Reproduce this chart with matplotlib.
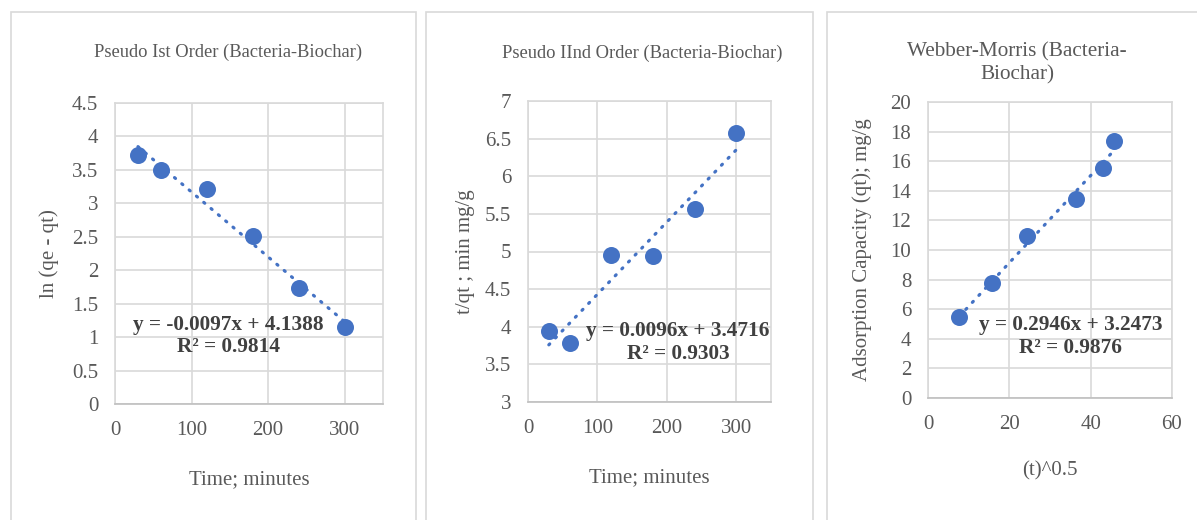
import numpy as np
import matplotlib.pyplot as plt
from matplotlib.patches import Rectangle

# Reaction time (minutes) and the three kinetic transforms
time_min = [30, 60, 120, 180, 240, 300]
ln_qe_qt = [3.72, 3.50, 3.21, 2.51, 1.74, 1.15]
t_over_qt = [3.95, 3.78, 4.95, 4.94, 5.57, 6.58]
sqrt_t = [7.7, 15.8, 24.3, 36.4, 43.1, 45.7]
qt = [5.49, 7.75, 10.97, 13.42, 15.52, 17.34]

# fitted lines as printed on the chart
fit1 = (-0.0097, 4.1388, 0.9814)
fit2 = (0.0096, 3.4716, 0.9303)
fit3 = (0.2946, 3.2473, 0.9876)

BLUE = "#4472C4"
GRID = "#d9d9d9"
TXT = "#595959"
EQ = "#404040"

plt.rcParams["font.family"] = ["Liberation Serif", "DejaVu Serif"]

fig = plt.figure(figsize=(11.97, 5.2), dpi=100)

# chart-area frames (light gray boxes)
for x0, x1 in [(11, 416), (426, 813), (827, 1200)]:
    fig.patches.append(Rectangle((x0 / 1197, -0.05), (x1 - x0) / 1197, (520 - 12) / 520 + 0.05,
                                 transform=fig.transFigure, fill=False,
                                 edgecolor=GRID, linewidth=1.2))


def panel(rect, x, y, fit, xlim, ylim, yticks, xticks, title, title_xy, title_size,
          xlabel, xlab_y, ylabel, ylab_x, eq_xy):
    ax = fig.add_axes(rect)
    ax.set_xlim(*xlim)
    ax.set_ylim(*ylim)
    ax.set_xticks(xticks)
    ax.set_yticks(yticks)
    ax.set_yticklabels([f"{v:g}" for v in yticks])
    ax.grid(True, color=GRID, linewidth=1.2)
    ax.set_axisbelow(True)
    for s in ax.spines.values():
        s.set_color(GRID)
        s.set_linewidth(1.2)
    ax.spines["bottom"].set_color("#bfbfbf")
    ax.tick_params(length=0, labelsize=15, colors=TXT, pad=12)

    xs = np.array([x[0], x[-1]])
    ax.plot(xs, fit[0] * xs + fit[1], color=BLUE, linewidth=2.3,
            linestyle=(0, (0.4, 2.6)), dash_capstyle="round", zorder=3)
    ax.scatter(x, y, s=150, color=BLUE, zorder=4, linewidths=0)

    sign = "-" if fit[1] < 0 else "+"
    eq = f"y = {fit[0]:.4f}x {sign} {abs(fit[1]):.4f}\nR² = {fit[2]:.4f}"
    ax.text(eq_xy[0], eq_xy[1], eq, ha="center", va="center", fontsize=15.3,
            fontweight="bold", color=EQ, linespacing=1.15, zorder=5)

    ax.set_xlabel(xlabel, fontsize=15, color=TXT)
    ax.xaxis.set_label_coords(0.5, xlab_y)
    ax.set_ylabel(ylabel, fontsize=15, color=TXT)
    ax.yaxis.set_label_coords(ylab_x, 0.5)

    fig.text(title_xy[0] / 1197, 1 - title_xy[1] / 520, title, ha="center", va="center",
             fontsize=title_size, color=TXT, linespacing=1.25)
    return ax


panel([115 / 1197, 116 / 520, 268 / 1197, 301 / 520], time_min, ln_qe_qt, fit1,
      (0, 350), (0, 4.5), np.arange(0, 4.51, 0.5), [0, 100, 200, 300],
      "Pseudo Ist Order (Bacteria-Biochar)", (228, 52), 13.3,
      "Time; minutes", -0.22, "ln (qe - qt)", -0.21, (148, 1.02))

panel([528 / 1197, 118 / 520, 243 / 1197, 301 / 520], time_min, t_over_qt, fit2,
      (0, 350), (3, 7), np.arange(3, 7.01, 0.5), [0, 100, 200, 300],
      "Pseudo IInd Order (Bacteria-Biochar)", (642, 53), 13.3,
      "Time; minutes", -0.22, "t/qt ; min mg/g", -0.22, (216, 3.79))

panel([928 / 1197, 122 / 520, 244 / 1197, 296 / 520], sqrt_t, qt, fit3,
      (0, 60), (0, 20), np.arange(0, 20.1, 2), [0, 20, 40, 60],
      "Webber-Morris (Bacteria-\nBiochar)", (1017, 63), 15.3,
      "(t)^0.5", -0.215, "Adsorption Capacity (qt); mg/g", -0.23, (35.1, 4.15))

fig.savefig("out.png", dpi=100)
